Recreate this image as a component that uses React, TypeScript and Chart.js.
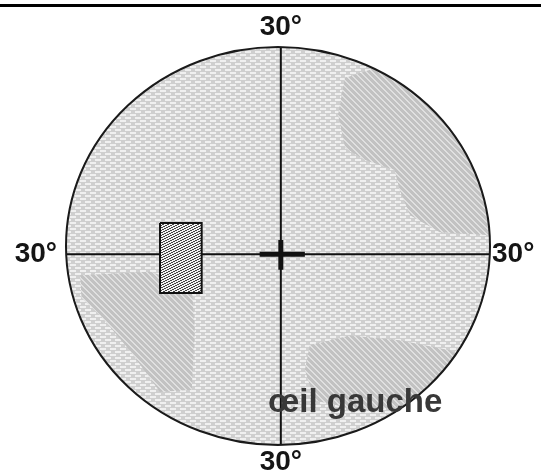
import React, { useEffect, useRef } from "react";
import { Chart, registerables } from "chart.js";

Chart.register(...registerables);

// Visual field bounds (degrees)
const fieldX = [-30.4, 29.6];
const fieldY = [-27, 29.3];

// Tick / meridian labels
const meridianLabels = ["30°", "30°", "30°", "30°"]; // top, left, right, bottom
const eyeLabel = "œil gauche";

// Meridians
const horizontalMeridian = [
  { x: -31, y: 0 },
  { x: 31, y: 0 },
];
const verticalMeridian = [
  { x: 0, y: 30 },
  { x: 0, y: -28 },
];

// Fixation cross
const crossH = [
  { x: -3.0, y: 0 },
  { x: 3.4, y: 0 },
];
const crossV = [
  { x: 0, y: 2.0 },
  { x: 0, y: -2.2 },
];

// Blind spot (rectangle)
const blindSpot = [
  { x: -17.1, y: 4.4 },
  { x: -11.2, y: 4.4 },
  { x: -11.2, y: -5.5 },
  { x: -17.1, y: -5.5 },
  { x: -17.1, y: 4.4 },
];

// Defect regions (darker hatch)
const defectUpperRight = [
  { x: 9.06, y: 24.9 },
  { x: 13.3, y: 26.3 },
  { x: 19.7, y: 23.9 },
  { x: 24.6, y: 19.7 },
  { x: 27.9, y: 13.3 },
  { x: 29.3, y: 6.9 },
  { x: 29.3, y: 2.7 },
  { x: 22.5, y: 3.1 },
  { x: 18.3, y: 5.5 },
  { x: 16.8, y: 9.1 },
  { x: 16.1, y: 11.9 },
  { x: 11.9, y: 13.3 },
  { x: 9.1, y: 15.0 },
  { x: 8.1, y: 19.7 },
  { x: 9.06, y: 24.9 },
];
const defectLowerLeft = [
  { x: -28.4, y: -3.0 },
  { x: -18.5, y: -2.5 },
  { x: -12.6, y: -4.4 },
  { x: -12.2, y: -10.8 },
  { x: -12.6, y: -19.2 },
  { x: -17.1, y: -19.5 },
  { x: -21.4, y: -13.6 },
  { x: -25.6, y: -8.6 },
  { x: -28.2, y: -6.2 },
  { x: -28.4, y: -3.0 },
];
const defectBottom = [
  { x: 4.1, y: -12.9 },
  { x: 9.8, y: -11.5 },
  { x: 16.8, y: -12.2 },
  { x: 23.9, y: -13.6 },
  { x: 26.7, y: -15.3 },
  { x: 24.6, y: -18.5 },
  { x: 19.7, y: -21.4 },
  { x: 11.2, y: -22.1 },
  { x: 4.8, y: -20.7 },
  { x: 3.4, y: -16.4 },
  { x: 4.1, y: -12.9 },
];

function makePattern(
  w: number,
  h: number,
  draw: (g: CanvasRenderingContext2D) => void
): CanvasPattern | string {
  const c = document.createElement("canvas");
  c.width = w;
  c.height = h;
  const g = c.getContext("2d");
  if (!g) return "#ddd";
  draw(g);
  return g.createPattern(c, "repeat") || "#ddd";
}

export default function App() {
  const ref = useRef<HTMLCanvasElement | null>(null);

  useEffect(() => {
    if (!ref.current) return;

    const lightPattern = makePattern(10, 6, (g) => {
      g.fillStyle = "#cfcfcf";
      g.fillRect(0, 0, 10, 6);
      g.fillStyle = "#f0f0f0";
      g.fillRect(0, 0, 6, 2);
      g.fillRect(5, 3, 5, 2);
      g.fillRect(0, 3, 1, 2);
    });

    const hatchPattern = makePattern(6, 6, (g) => {
      g.fillStyle = "#c2c2c2";
      g.fillRect(0, 0, 6, 6);
      g.fillStyle = "#e0e0e0";
      for (let px = 0; px < 6; px++) {
        for (let py = 0; py < 6; py++) {
          if ((px - py + 12) % 6 < 2) g.fillRect(px, py, 1, 1);
        }
      }
    });

    const dotPattern = makePattern(5, 5, (g) => {
      g.fillStyle = "#f5f5f5";
      g.fillRect(0, 0, 5, 5);
      g.fillStyle = "#444";
      for (let px = 0; px < 5; px++) {
        for (let py = 0; py < 5; py++) {
          if ((px + 2 * py) % 5 < 2) g.fillRect(px, py, 1, 1);
        }
      }
    });

    const ellipsePath = (chart: any) => {
      const { ctx, scales } = chart;
      const x0 = scales.x.getPixelForValue(fieldX[0]);
      const x1 = scales.x.getPixelForValue(fieldX[1]);
      const y0 = scales.y.getPixelForValue(fieldY[1]);
      const y1 = scales.y.getPixelForValue(fieldY[0]);
      ctx.beginPath();
      ctx.ellipse((x0 + x1) / 2, (y0 + y1) / 2, (x1 - x0) / 2, (y1 - y0) / 2, 0, 0, Math.PI * 2);
      return { x0, x1, y0, y1 };
    };

    const fieldPlugin = {
      id: "field",
      beforeDatasetsDraw(chart: any) {
        const { ctx } = chart;
        ctx.save();
        ellipsePath(chart);
        ctx.fillStyle = lightPattern;
        ctx.fill();
        ctx.clip();
      },
      afterDatasetsDraw(chart: any) {
        const { ctx, scales } = chart;
        ctx.restore();
        ctx.save();
        const b = ellipsePath(chart);
        ctx.lineWidth = 2;
        ctx.strokeStyle = "#1a1a1a";
        ctx.stroke();

        const cx = scales.x.getPixelForValue(0);
        const cy = scales.y.getPixelForValue(0);
        ctx.fillStyle = "#151515";
        ctx.font = "bold 28px 'Liberation Sans', Arial, sans-serif";
        ctx.textBaseline = "middle";
        ctx.textAlign = "center";
        ctx.fillText(meridianLabels[0], cx, b.y0 - 20);
        ctx.fillText(meridianLabels[3], cx, b.y1 + 17);
        ctx.textAlign = "right";
        ctx.fillText(meridianLabels[1], b.x0 - 9, cy);
        ctx.textAlign = "left";
        ctx.fillText(meridianLabels[2], b.x1 + 2, cy);

        ctx.fillStyle = "#383838";
        ctx.font = "bold 33px 'Liberation Sans', Arial, sans-serif";
        ctx.textAlign = "left";
        ctx.textBaseline = "alphabetic";
        ctx.fillText(eyeLabel, scales.x.getPixelForValue(-1.8), scales.y.getPixelForValue(-22.4));

        // top rule
        ctx.fillStyle = "#000";
        ctx.fillRect(0, 4, chart.width, 3);
        ctx.restore();
      },
    };

    const lineDs = (data: any[], width: number, order: number) => ({
      data,
      showLine: true,
      borderColor: "#111",
      borderWidth: width,
      pointRadius: 0,
      tension: 0,
      fill: false,
      order,
    });

    const areaDs = (data: any[], bg: any, order: number, border = 0) => ({
      data,
      showLine: true,
      borderColor: "#111",
      borderWidth: border,
      backgroundColor: bg,
      pointRadius: 0,
      tension: 0,
      fill: "shape",
      order,
    });

    const chart = new Chart(ref.current, {
      type: "scatter",
      data: {
        datasets: [
          lineDs(crossH, 5, 0),
          lineDs(crossV, 5, 0),
          areaDs(blindSpot, dotPattern, 1, 2),
          lineDs(horizontalMeridian, 2, 2),
          lineDs(verticalMeridian, 2, 2),
          areaDs(defectUpperRight, hatchPattern, 5),
          areaDs(defectLowerLeft, hatchPattern, 5),
          areaDs(defectBottom, hatchPattern, 5),
        ] as any,
      },
      options: {
        animation: false,
        responsive: false,
        events: [],
        layout: { padding: { left: 66, right: 51, top: 47, bottom: 30 } },
        plugins: {
          legend: { display: false },
          tooltip: { enabled: false },
        },
        scales: {
          x: { type: "linear", min: fieldX[0], max: fieldX[1], display: false },
          y: { type: "linear", min: fieldY[0], max: fieldY[1], display: false },
        },
      } as any,
      plugins: [fieldPlugin],
    });

    return () => chart.destroy();
  }, []);

  return (
    <div
      style={{
        position: "fixed",
        left: 0,
        top: 0,
        width: 541,
        height: 475,
        background: "#fff",
      }}
    >
      <canvas ref={ref} width={541} height={475} style={{ width: 541, height: 475, display: "block" }} />
    </div>
  );
}
